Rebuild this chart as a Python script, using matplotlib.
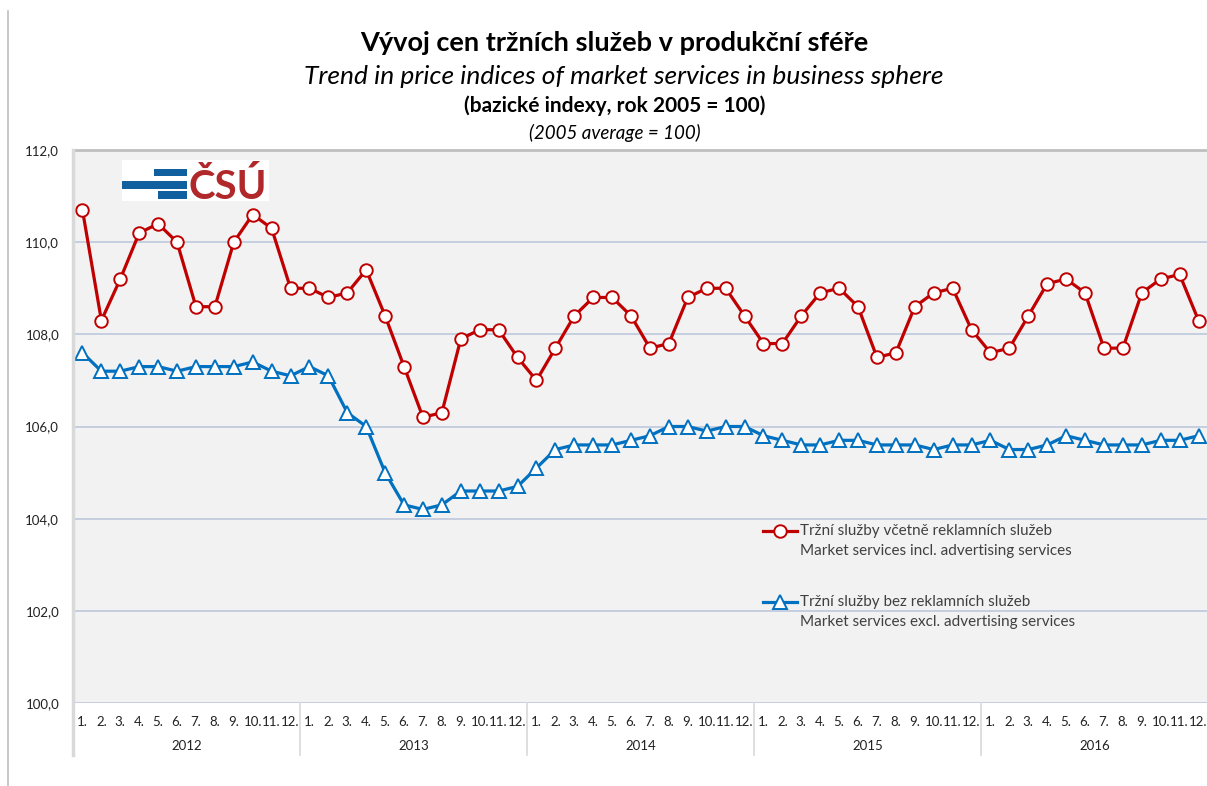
import matplotlib
matplotlib.use('Agg')
import matplotlib.pyplot as plt
from matplotlib.lines import Line2D
from matplotlib.patches import Rectangle
from matplotlib import transforms

plt.rcParams['font.family'] = ['Lato', 'DejaVu Sans']

# data
years = ['2012', '2013', '2014', '2015', '2016']
months = ['1.', '2.', '3.', '4.', '5.', '6.', '7.', '8.', '9.', '10.', '11.', '12.']

incl_adv = [110.7, 108.3, 109.2, 110.2, 110.4, 110.0, 108.6, 108.6, 110.0, 110.6, 110.3, 109.0,
            109.0, 108.8, 108.9, 109.4, 108.4, 107.3, 106.2, 106.3, 107.9, 108.1, 108.1, 107.5,
            107.0, 107.7, 108.4, 108.8, 108.8, 108.4, 107.7, 107.8, 108.8, 109.0, 109.0, 108.4,
            107.8, 107.8, 108.4, 108.9, 109.0, 108.6, 107.5, 107.6, 108.6, 108.9, 109.0, 108.1,
            107.6, 107.7, 108.4, 109.1, 109.2, 108.9, 107.7, 107.7, 108.9, 109.2, 109.3, 108.3]

excl_adv = [107.6, 107.2, 107.2, 107.3, 107.3, 107.2, 107.3, 107.3, 107.3, 107.4, 107.2, 107.1,
            107.3, 107.1, 106.3, 106.0, 105.0, 104.3, 104.2, 104.3, 104.6, 104.6, 104.6, 104.7,
            105.1, 105.5, 105.6, 105.6, 105.6, 105.7, 105.8, 106.0, 106.0, 105.9, 106.0, 106.0,
            105.8, 105.7, 105.6, 105.6, 105.7, 105.7, 105.6, 105.6, 105.6, 105.5, 105.6, 105.6,
            105.7, 105.5, 105.5, 105.6, 105.8, 105.7, 105.6, 105.6, 105.6, 105.7, 105.7, 105.8]

y_ticks = [100, 102, 104, 106, 108, 110, 112]

label_incl = ['Tržní služby včetně reklamních služeb', 'Market services incl. advertising services']
label_excl = ['Tržní služby bez reklamních služeb', 'Market services excl. advertising services']

RED = '#c00000'
BLUE = '#0070c0'
W, H = 1207, 786

fig = plt.figure(figsize=(W / 100, H / 100), dpi=100)


def fx(px):
    return px / W


def fy(py):
    return 1 - py / H


# plot area (runs a bit past the right edge like the original)
ax = fig.add_axes([fx(73), fy(703), fx(1208 - 73), (703 - 150) / H])
ax.set_facecolor('#f2f2f2')

x = list(range(len(incl_adv)))
ax.plot(x, incl_adv, color=RED, lw=2.3, marker='o', ms=9, mfc='white', mec=RED, mew=1.4, zorder=3)
ax.plot(x, excl_adv, color=BLUE, lw=2.3, marker='^', ms=9.5, mfc='white', mec=BLUE, mew=1.4, zorder=3)

ax.set_xlim(-0.5, len(x) - 0.5)
ax.set_ylim(y_ticks[0], y_ticks[-1])
ax.set_yticks(y_ticks)
ax.set_yticklabels([f'{v:.1f}'.replace('.', ',') for v in y_ticks], fontsize=9.5, color='#222222')
ax.yaxis.grid(True, color='#c5cfe0', lw=1.4)
ax.set_axisbelow(True)

ax.set_xticks(x)
ax.set_xticklabels(months * len(years), fontsize=9.5, color='#222222')
ax.tick_params(axis='both', length=0)
ax.tick_params(axis='x', pad=9)
ax.tick_params(axis='y', pad=10)

for s in ['left', 'right', 'bottom']:
    ax.spines[s].set_visible(False)
ax.spines['top'].set_color('#bfbfbf')
ax.spines['top'].set_linewidth(2)

# year labels and separators under the month labels
trans = transforms.blended_transform_factory(ax.transData, ax.transAxes)
for i, yr in enumerate(years):
    ax.text(i * 12 + 5.5, -0.078, yr, transform=trans, ha='center', va='center',
            fontsize=9.5, color='#222222')
    if i > 0:
        ax.plot([i * 12 - 0.5] * 2, [0, -0.094], transform=trans, clip_on=False,
                color='#d9d9d9', lw=1.2)

# left axis line and outer frame line
fig.add_artist(Line2D([fx(73), fx(73)], [fy(150), fy(755)], color='#d9d9d9', lw=2.5))
fig.add_artist(Line2D([fx(8), fx(8)], [fy(11), fy(786)], color='#bfbfbf', lw=1.2))

# titles
fig.text(0.509, fy(43), 'Vývoj cen tržních služeb v produkční sféře', ha='center', va='center',
         fontsize=19.5, fontweight='bold')
fig.text(0.517, fy(77), 'Trend in price indices of market services in business sphere', ha='center',
         va='center', fontsize=19, style='italic')
fig.text(0.509, fy(106), '(bazické indexy, rok 2005 = 100)', ha='center', va='center',
         fontsize=15, fontweight='bold')
fig.text(0.509, fy(133), '(2005 average = 100)', ha='center', va='center', fontsize=13.5,
         style='italic')

# legend drawn by hand: marker on the first line, two text lines
for (col, mk, ms, lab, py) in [(RED, 'o', 9, label_incl, 531), (BLUE, '^', 9.5, label_excl, 602)]:
    fig.add_artist(Line2D([fx(763), fx(780), fx(797)], [fy(py)] * 3, color=col, lw=2.3, marker=mk,
                          ms=ms, mfc='white', mec=col, mew=1.4, markevery=[1]))
    fig.text(fx(800), fy(py), lab[0], ha='left', va='center', fontsize=11, color='#404040')
    fig.text(fx(800), fy(py + 20), lab[1], ha='left', va='center', fontsize=11, color='#404040')

# ČSÚ logo
fig.add_artist(Rectangle((fx(122), fy(201)), fx(269 - 122), (201 - 160) / H, color='white', lw=0))
for (x0, y0, y1) in [(154, 169, 176), (122, 181, 189), (158, 191, 199)]:
    fig.add_artist(Rectangle((fx(x0), fy(y1)), fx(187 - x0), (y1 - y0) / H, color='#105f9f', lw=0))
fig.text(fx(189), fy(199), 'ČSÚ', ha='left', va='baseline', fontsize=29, fontweight='bold',
         color='#b0282a')

fig.savefig('out.png', dpi=100)
